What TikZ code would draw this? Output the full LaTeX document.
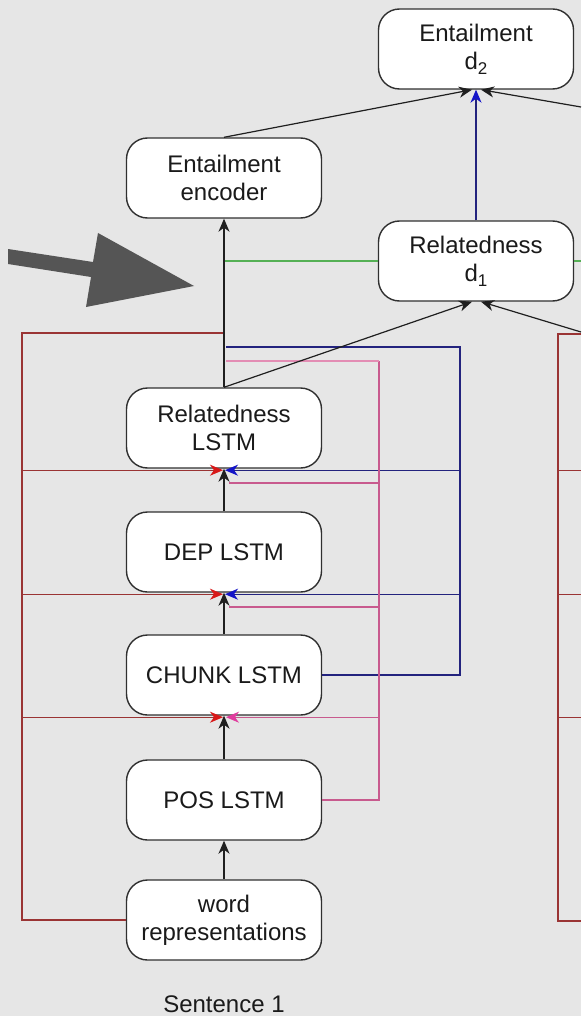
\documentclass[tikz,border=0pt]{standalone}
\usepackage{fontspec}
\setmainfont{Liberation Sans}
\usetikzlibrary{arrows.meta}

\definecolor{bgc}{HTML}{E6E6E6}
\definecolor{boxline}{HTML}{303030}
\definecolor{txt}{HTML}{1A1A1A}
\definecolor{bigarrow}{HTML}{555555}
\definecolor{shortred}{HTML}{9A3434}
\definecolor{tipred}{HTML}{D81818}
\definecolor{chunkblue}{HTML}{23237E}
\definecolor{tipblue}{HTML}{1414C8}
\definecolor{pospink}{HTML}{C85A8E}
\definecolor{poslight}{HTML}{E38DB4}
\definecolor{tippink}{HTML}{E03C9E}
\definecolor{linkgreen}{HTML}{55B055}

\newcommand{\lowsub}[1]{\raisebox{-5pt}{\fontsize{17}{17}\selectfont #1}}

\begin{document}
\begin{tikzpicture}[x=1pt,y=-1pt,
  box/.style={draw=boxline, fill=white, line width=1.4pt, rounded corners=21pt,
    minimum width=195pt, minimum height=80pt, align=center, inner sep=0pt,
    font=\fontsize{24}{28}\selectfont, text=txt},
  conn/.style={line width=1.2pt, draw=black!88},
  tipk/.style={-{Stealth[length=13pt,width=11pt,inset=4pt]}},
  tipr/.style={-{Stealth[length=13pt,width=11pt,inset=4pt,color=tipred]}},
  tipb/.style={-{Stealth[length=13pt,width=11pt,inset=4pt,color=tipblue]}},
  tipp/.style={-{Stealth[length=13pt,width=11pt,inset=4pt,color=tippink]}},
  redln/.style={line width=1.3pt, draw=shortred},
  blueln/.style={line width=1.3pt, draw=chunkblue},
  pinkln/.style={line width=1.3pt, draw=pospink},
  greenln/.style={line width=1.2pt, draw=linkgreen}
]
% canvas
\fill[bgc] (0,0) rectangle (581,1016);
\useasboundingbox (0,0) rectangle (581,1016);

% pointer arrow on the left
\fill[bigarrow] (8,249) -- (93,262) -- (98,233) -- (194,286) -- (86,307)
  -- (91,277) -- (8,264) -- cycle;

% nodes
\node[box] (d2)    at (476,49)  {Entailment\\d\lowsub{2}};
\node[box] (enc)   at (224,178) {Entailment\\encoder};
\node[box] (d1)    at (476,261) {Relatedness\\d\lowsub{1}};
\node[box] (rel)   at (224,428) {Relatedness\\LSTM};
\node[box] (dep)   at (224,552) {DEP LSTM};
\node[box] (chunk) at (224,675) {CHUNK LSTM};
\node[box] (pos)   at (224,800) {POS LSTM};
\node[box] (word)  at (224,920) {word\\representations};
\node[font=\fontsize{24}{28}\selectfont, text=txt, anchor=base] (sent) at (224,1012) {Sentence 1};

% routing points
\coordinate (redTL) at (22,333);
\coordinate (redBL) at (22,920);
\coordinate (blueTR) at (460,347);
\coordinate (blueBR) at (460,675);
\coordinate (pinkTR) at (379,361);
\coordinate (pinkBR) at (379,800);
\coordinate (rtop2) at (581,107);
\coordinate (rtop1) at (581,332);
\coordinate (redTR) at (558,334);
\coordinate (redBR) at (558,921);
\coordinate (edgeR) at (581,0);
% entry points just under each LSTM box
\coordinate (relIn)   at ([yshift=-1.5pt]rel.south);
\coordinate (depIn)   at ([yshift=-1.5pt]dep.south);
\coordinate (chunkIn) at ([yshift=-1.5pt]chunk.south);

% shortcut from word representations (left loop)
\draw[redln] (word.west) -- (redBL) -- (redTL) -- (rel.north |- redTL);
\draw[redln, tipr] (redTL |- relIn) -- ([xshift=-1]relIn);
\draw[redln, tipr] (redTL |- depIn) -- ([xshift=-1]depIn);
\draw[redln, tipr] (redTL |- chunkIn) -- ([xshift=-1]chunkIn);

% chunk output fed upwards
\draw[blueln] (chunk.east) -- (blueBR) -- (blueTR) -- ([xshift=2]rel.north |- blueTR);
\draw[blueln, tipb] (blueTR |- relIn) -- ([xshift=1]relIn);
\draw[blueln, tipb] (blueTR |- depIn) -- ([xshift=1]depIn);

% pos output fed upwards
\draw[pinkln] (pos.east) -- (pinkBR) -- (pinkTR);
\draw[line width=1.3pt, draw=poslight] (pinkTR) -- ([xshift=2]rel.north |- pinkTR);
\draw[pinkln] (379,483) -- (229,483);
\draw[pinkln] (379,607) -- (229,607);
\draw[pinkln, tipp] (pinkTR |- chunkIn) -- ([xshift=2]chunkIn);

% right column (second sentence)
\draw[redln] (edgeR |- redTR) -- (redTR) -- (redBR) -- (edgeR |- redBR);
\draw[redln] (redTR |- relIn) -- (edgeR |- relIn);
\draw[redln] (redTR |- depIn) -- (edgeR |- depIn);
\draw[redln] (redTR |- chunkIn) -- (edgeR |- chunkIn);

% green link through relatedness
\draw[greenln] (rel.north |- d1.west) -- (d1.west);
\draw[greenln] (d1.east) -- (edgeR |- d1.east);

% main stack
\draw[conn, tipk] (word.north) -- (pos.south);
\draw[conn, tipk] (pos.north) -- (chunk.south);
\draw[conn, tipk] (chunk.north) -- (dep.south);
\draw[conn, tipk] (dep.north) -- (rel.south);
\draw[conn, tipk] (rel.north) -- (enc.south);

% upper heads
\draw[conn, tipk] (enc.north) -- ([xshift=-4]d2.south);
\draw[conn, tipk] (rel.north) -- ([xshift=-4]d1.south);
\draw[conn, tipk] (rtop2) -- ([xshift=5]d2.south);
\draw[conn, tipk] (rtop1) -- ([xshift=5]d1.south);
\draw[blueln, tipb] (d1.north) -- (d2.south);
\end{tikzpicture}
\end{document}
